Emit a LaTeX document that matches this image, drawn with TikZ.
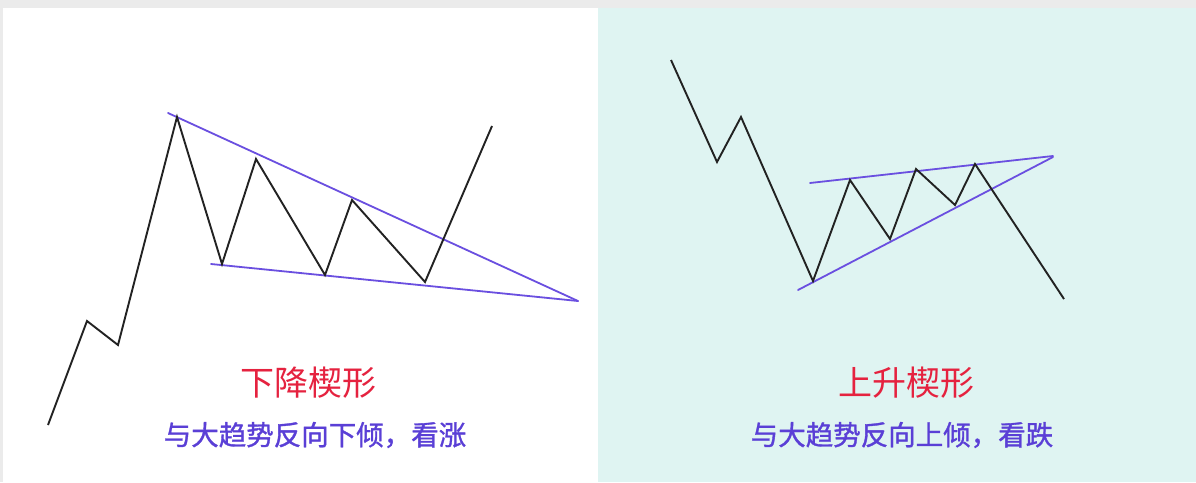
\documentclass[tikz,border=0pt]{standalone}
\usepackage{fontspec}
\newfontfamily\cjk{Noto Sans CJK SC}
\newfontfamily\cjknote{Noto Sans CJK SC}[FakeBold=1.2]
\definecolor{bandgray}{HTML}{EBEBEB}
\definecolor{panelcyan}{HTML}{DFF4F2}
\definecolor{wedgepurple}{HTML}{6A4FE0}
\definecolor{pricegray}{HTML}{222222}
\definecolor{titlered}{HTML}{E5223F}
\definecolor{notepurple}{HTML}{5A3FD6}
\tikzset{
  price/.style={draw=pricegray, line width=1.9pt, line join=miter},
  trend/.style={draw=wedgepurple, line width=1.8pt, line cap=round},
  titletext/.style={text=titlered, font=\cjk\fontsize{34}{38}\selectfont, inner sep=0pt},
  notetext/.style={text=notepurple, font=\cjknote\fontsize{27.5}{30}\selectfont, inner sep=0pt},
}
\begin{document}
\begin{tikzpicture}[x=1pt,y=-1pt]
\useasboundingbox (0,0) rectangle (1196,482);
% backgrounds
\fill[bandgray] (0,0) rectangle (1196,482);
\fill[white] (3,8) rectangle (598,482);
\fill[panelcyan] (598,8) rectangle (1196,482);

% ---- left: falling wedge ----
\draw[trend] (168,113) -- (578,301);
\draw[trend] (211,264) -- (578,301);
\draw[price] (48,425) -- (87,321) -- (118,345) -- (177,117) -- (222,264)
  -- (256,159) -- (325,275) -- (352,200) -- (425,282) -- (492,126);

\node[titletext] (t1) at (308,383) {下降楔形};
\node[notetext] (n1) at (315,435) {与大趋势反向下倾，看涨};

% ---- right: rising wedge ----
\draw[trend] (810,183) -- (1053,156);
\draw[trend] (798,290) -- (1053,157);
\draw[price] (671,60) -- (717,162) -- (741,117) -- (813,281) -- (850,180)
  -- (890,239) -- (916,169) -- (955,205) -- (975,164) -- (1064,299);

\node[titletext] (t2) at (906,383) {上升楔形};
\node[notetext] (n2) at (902,435) {与大趋势反向上倾，看跌};
\end{tikzpicture}
\end{document}
